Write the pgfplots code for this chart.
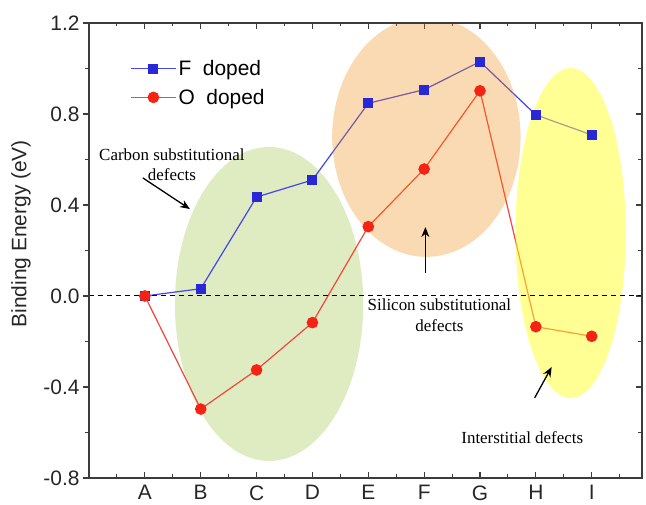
\documentclass[border=0pt]{standalone}
\usepackage{fontspec}
\setmainfont{Liberation Sans}
\newfontfamily\timesf{Liberation Serif}
\usepackage{pgfplots}
\pgfplotsset{compat=1.18}
\usetikzlibrary{arrows.meta}

\definecolor{fblue}{RGB}{40,40,215}
\definecolor{fline}{RGB}{70,70,235}
\definecolor{ored}{RGB}{245,35,20}
\definecolor{oline}{RGB}{245,70,60}
\definecolor{gfill}{RGB}{223,236,194}
\definecolor{obase}{RGB}{238,132,0}
\definecolor{ybase}{RGB}{255,255,40}
\definecolor{axgray}{RGB}{60,60,60}

\pgfplotsset{common/.style={
  scale only axis, width=553bp, height=455bp,
  xmin=-1, xmax=8.9, ymin=-0.8, ymax=1.2,
  axis line style={axgray, line width=1.3bp},
  every tick/.style={axgray, line width=1.1bp},
  major tick length=6bp, minor tick length=3.5bp,
  ticklabel style={font=\fontsize{21}{24}\selectfont, text=black!85},
  /pgf/number format/assume math mode=true,
  yticklabel style={/pgf/number format/fixed, /pgf/number format/fixed zerofill, /pgf/number format/precision=1},
  ytick={-0.8,-0.4,0,0.4,0.8,1.2},
  minor ytick={-0.6,-0.2,0.2,0.6,1.0},
  xtick={0,1,2,3,4,5,6,7,8},
  minor xtick={-0.5,0.5,1.5,2.5,3.5,4.5,5.5,6.5,7.5,8.5},
}}

\begin{document}
\begin{tikzpicture}
\path[use as bounding box] (-89bp,-27bp) rectangle (557bp,478bp);
\begin{axis}[common,
  tick align=inside,
  ytick pos=right, yticklabels={},
  xticklabels={A,B,C,D,E,F,G,H,I},
  xticklabel style={yshift=-4bp},
  legend style={draw=none, fill=none, at={(axis description cs:0.069,0.927)}, anchor=north west,
    font=\fontsize{21}{24}\selectfont, row sep=8bp, cells={anchor=west}},
  legend image code/.code={\draw[mark repeat=2,mark phase=2,#1] plot coordinates {(0bp,0bp) (22.5bp,0bp) (45bp,0bp)};},
]
\fill[gfill] (axis cs:2.224,-0.035) ellipse [x radius=1.686, y radius=0.690];
\addplot[fline, line width=1.2bp, mark=square*, mark size=4.4bp, mark options={fill=fblue, draw=fblue, solid}]
  coordinates {(0,0) (1,0.032) (2,0.435) (3,0.51) (4,0.847) (5,0.907) (6,1.03) (7,0.796) (8,0.708)};
\addplot[oline, line width=1.2bp, mark=*, mark size=5.2bp, mark options={fill=ored, draw=ored, solid}]
  coordinates {(0,0) (1,-0.497) (2,-0.325) (3,-0.117) (4,0.305) (5,0.558) (6,0.902) (7,-0.135) (8,-0.177)};
\legend{F\ \ doped, O\ \ doped}
\fill[obase, fill opacity=0.3] (axis cs:5.04,0.699) ellipse [x radius=1.686, y radius=0.527];
\fill[ybase, fill opacity=0.5] (axis cs:7.623,0.277) ellipse [x radius=0.987, y radius=0.725];
\addplot[black, line width=1bp, dash pattern=on 5bp off 4bp, forget plot] coordinates {(-1,0) (8.9,0)};
\draw[-{Stealth[length=10bp,width=8bp]}, line width=1.3bp] (axis cs:-0.036,0.519) -- (axis cs:0.807,0.382);
\draw[-{Stealth[length=10bp,width=8bp]}, line width=1.3bp] (axis cs:5.022,0.101) -- (axis cs:5.022,0.303);
\draw[-{Stealth[length=10bp,width=8bp]}, line width=1.3bp] (axis cs:6.978,-0.448) -- (axis cs:7.283,-0.312);
\node[align=center, font=\timesf\fontsize{17}{20}\selectfont, inner sep=0pt] at (axis cs:0.484,0.576) {Carbon substitutional\\defects};
\node[align=center, font=\timesf\fontsize{17}{21}\selectfont, inner sep=0pt] at (axis cs:5.274,-0.084) {Silicon substitutional\\defects};
\node[align=center, font=\timesf\fontsize{17}{20}\selectfont, inner sep=0pt] at (axis cs:6.757,-0.624) {Interstitial defects};
\end{axis}
\begin{axis}[common,
  tick align=outside,
  ytick pos=left,
  xtick=\empty, minor xtick={},
  every axis y label/.style={at={(axis description cs:0,0.537)}, xshift=-68bp, rotate=90, anchor=center},
  ylabel={Binding Energy (eV)},
  ylabel style={font=\fontsize{21}{24}\selectfont, text=black!85},
]
\end{axis}
\end{tikzpicture}
\end{document}
